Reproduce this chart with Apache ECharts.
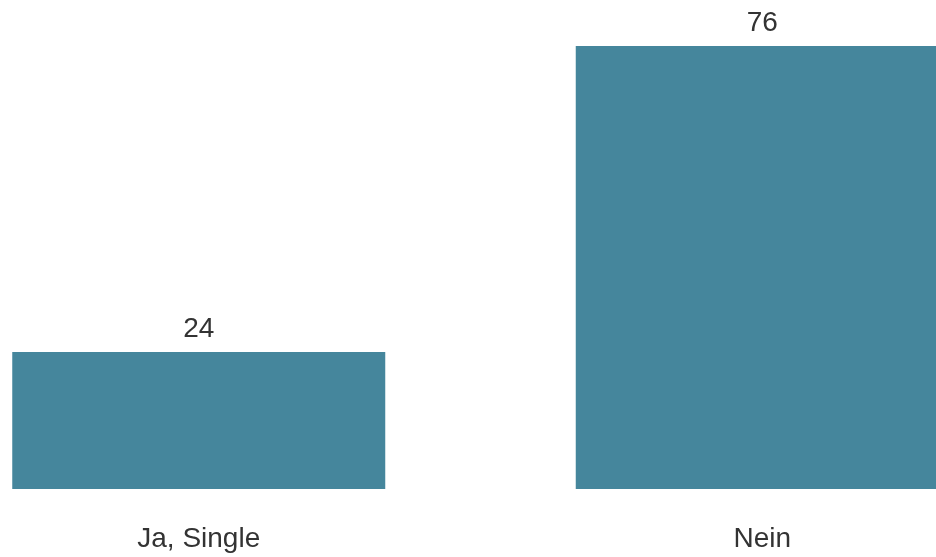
<!DOCTYPE html>
<html>
<head>
<meta charset="utf-8">
<script src="https://cdn.jsdelivr.net/npm/echarts@6/dist/echarts.min.js"></script>
<style>
html,body{margin:0;padding:0;background:#fff;width:936px;height:557px;overflow:hidden;position:relative;}
#c{position:absolute;left:-83px;top:0;width:1127px;height:557px;}
</style>
</head>
<body>
<div id="c"></div>
<script>
const categories = ["Ja, Single", "Nein"];
const values = [23.6, 76.4];

const chart = echarts.init(document.getElementById('c'), null, {renderer: 'canvas'});
chart.setOption({
  animation: false,
  grid: {left: 0, right: 0, top: 25, bottom: 68, containLabel: false},
  xAxis: {
    type: 'category',
    data: categories,
    axisLine: {show: false},
    axisTick: {show: false},
    axisLabel: {color: '#333333', fontSize: 28, fontFamily: 'Liberation Sans, Arial, sans-serif', margin: 36}
  },
  yAxis: {
    type: 'value', min: 0, max: 80,
    show: false,
    splitLine: {show: false}
  },
  series: [{
    type: 'bar',
    data: values,
    barWidth: 373,
    itemStyle: {color: '#45869C'},
    label: {
      show: true, position: 'top', distance: 9,
      color: '#333333', fontSize: 28, fontFamily: 'Liberation Sans, Arial, sans-serif',
      formatter: p => String(Math.round(p.value))
    }
  }]
});
</script>
</body>
</html>
